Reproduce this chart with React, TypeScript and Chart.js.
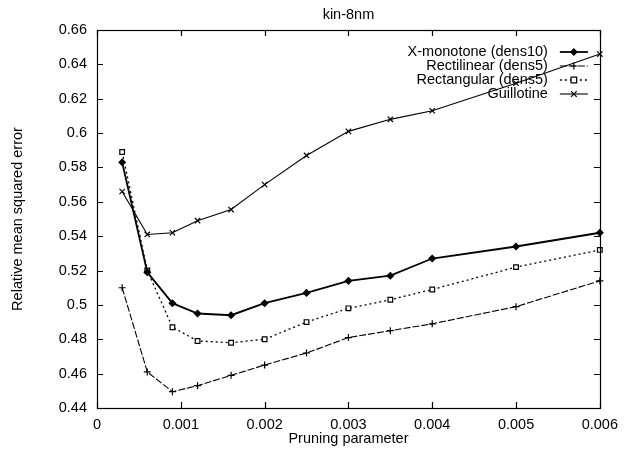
import React, { useEffect, useRef } from 'react';
import { Chart, registerables } from 'chart.js';

Chart.register(...registerables);

const chartTitle = 'kin-8nm';
const xAxisTitle = 'Pruning parameter';
const yAxisTitle = 'Relative mean squared error';

const pruning = [0.0003, 0.0006, 0.0009, 0.0012, 0.0016, 0.002, 0.0025, 0.003, 0.0035, 0.004, 0.005, 0.006];
const seriesNames = ['X-monotone (dens10)', 'Rectilinear (dens5)', 'Rectangular (dens5)', 'Guillotine'];
const xMonotone = [0.583, 0.519, 0.501, 0.495, 0.494, 0.501, 0.507, 0.514, 0.517, 0.527, 0.534, 0.542];
const rectilinear = [0.510, 0.461, 0.4495, 0.453, 0.459, 0.465, 0.472, 0.481, 0.485, 0.489, 0.499, 0.514];
const rectangular = [0.589, 0.520, 0.487, 0.479, 0.478, 0.480, 0.490, 0.498, 0.503, 0.509, 0.522, 0.532];
const guillotine = [0.566, 0.541, 0.542, 0.549, 0.5555, 0.570, 0.587, 0.601, 0.608, 0.613, 0.629, 0.646];

const xTicks = [0, 0.001, 0.002, 0.003, 0.004, 0.005, 0.006];
const xTickLabels = ['0', '0.001', '0.002', '0.003', '0.004', '0.005', '0.006'];
const yTicks = [0.44, 0.46, 0.48, 0.5, 0.52, 0.54, 0.56, 0.58, 0.6, 0.62, 0.64, 0.66];
const yTickLabels = ['0.44', '0.46', '0.48', '0.5', '0.52', '0.54', '0.56', '0.58', '0.6', '0.62', '0.64', '0.66'];

const FONT = '"Liberation Sans", Arial, sans-serif';
const FS = 14.5;

type Sty = { pointStyle: string; radius: number; dash: number[]; width: number; fill: string };
const styles: Sty[] = [
  { pointStyle: 'rectRot', radius: 3.2, dash: [], width: 1.8, fill: '#000' },
  { pointStyle: 'cross', radius: 3.5, dash: [7, 2], width: 1.1, fill: '#000' },
  { pointStyle: 'rect', radius: 3.3, dash: [2, 3], width: 1.3, fill: '#fff' },
  { pointStyle: 'crossRot', radius: 3.8, dash: [], width: 1.1, fill: '#000' },
];
const seriesValues = [xMonotone, rectilinear, rectangular, guillotine];

function drawMarker(ctx: CanvasRenderingContext2D, s: Sty, x: number, y: number) {
  const r = s.radius;
  ctx.save();
  ctx.setLineDash([]);
  ctx.lineWidth = 1.2;
  ctx.strokeStyle = '#000';
  ctx.fillStyle = s.fill;
  ctx.beginPath();
  if (s.pointStyle === 'rectRot') {
    ctx.moveTo(x, y - r); ctx.lineTo(x + r, y); ctx.lineTo(x, y + r); ctx.lineTo(x - r, y); ctx.closePath();
    ctx.fill(); ctx.stroke();
  } else if (s.pointStyle === 'cross') {
    ctx.moveTo(x - r, y); ctx.lineTo(x + r, y); ctx.moveTo(x, y - r); ctx.lineTo(x, y + r); ctx.stroke();
  } else if (s.pointStyle === 'rect') {
    const h = r * 0.85;
    ctx.rect(x - h, y - h, 2 * h, 2 * h); ctx.fill(); ctx.stroke();
  } else {
    const d = r * 0.75;
    ctx.moveTo(x - d, y - d); ctx.lineTo(x + d, y + d); ctx.moveTo(x + d, y - d); ctx.lineTo(x - d, y + d); ctx.stroke();
  }
  ctx.restore();
}

const framePlugin = {
  id: 'gnuFrame',
  afterDraw(chart: any) {
    const { ctx, chartArea } = chart;
    const { left, right, top, bottom } = chartArea;
    const xs = chart.scales.x;
    const ys = chart.scales.y;
    ctx.save();
    ctx.strokeStyle = '#000';
    ctx.lineWidth = 1.2;
    ctx.setLineDash([]);
    ctx.strokeRect(Math.round(left) + 0.5, Math.round(top) + 0.5, Math.round(right - left), Math.round(bottom - top));
    const tl = 6;
    ctx.beginPath();
    xTicks.forEach((v) => {
      const px = Math.round(xs.getPixelForValue(v)) + 0.5;
      ctx.moveTo(px, bottom); ctx.lineTo(px, bottom - tl);
      ctx.moveTo(px, top); ctx.lineTo(px, top + tl);
    });
    yTicks.forEach((v) => {
      const py = Math.round(ys.getPixelForValue(v)) + 0.5;
      ctx.moveTo(left, py); ctx.lineTo(left + tl, py);
      ctx.moveTo(right, py); ctx.lineTo(right - tl, py);
    });
    ctx.stroke();

    // title
    ctx.fillStyle = '#000';
    ctx.font = `${FS}px ${FONT}`;
    ctx.textAlign = 'center';
    ctx.textBaseline = 'middle';
    ctx.fillText(chartTitle, (left + right) / 2, 15);

    // legend (gnuplot key)
    const textRight = right - 52;
    const sx0 = right - 40;
    const sx1 = right - 12;
    const mx = right - 26;
    seriesNames.forEach((name, i) => {
      const y = top + 22 + i * 14;
      ctx.fillStyle = '#000';
      ctx.textAlign = 'right';
      ctx.textBaseline = 'middle';
      ctx.fillText(name, textRight, y);
      const s = styles[i];
      ctx.save();
      ctx.lineWidth = s.width;
      ctx.setLineDash(s.dash);
      ctx.beginPath();
      ctx.moveTo(sx0, y); ctx.lineTo(sx1, y);
      ctx.stroke();
      ctx.restore();
      drawMarker(ctx, s, mx, y);
    });
    ctx.restore();
  },
};

export default function App() {
  const ref = useRef<HTMLCanvasElement | null>(null);
  useEffect(() => {
    document.body.style.margin = '0';
    if (!ref.current) return;
    Chart.defaults.font.family = FONT;
    Chart.defaults.font.size = FS;
    Chart.defaults.color = '#000';
    const datasets = seriesNames.map((name, i) => {
      const s = styles[i];
      return {
        label: name,
        data: pruning.map((x, j) => ({ x, y: seriesValues[i][j] })),
        borderColor: '#000',
        backgroundColor: s.fill,
        borderWidth: s.width,
        borderDash: s.dash,
        pointStyle: s.pointStyle as any,
        pointRadius: s.radius,
        pointBorderWidth: 1.2,
        pointBorderColor: '#000',
        pointBackgroundColor: s.fill,
        tension: 0,
        fill: false,
        clip: false as any,
      };
    });
    const chart = new Chart(ref.current, {
      type: 'line',
      data: { datasets },
      options: {
        animation: false,
        responsive: false,
        devicePixelRatio: 1,
        layout: { padding: { top: 30, right: 26, left: 0, bottom: 0 } },
        plugins: { legend: { display: false }, title: { display: false }, tooltip: { enabled: false } },
        scales: {
          x: {
            type: 'linear',
            min: 0,
            max: 0.006,
            afterFit: (s: any) => { s.height = 42; },
            afterBuildTicks: (s: any) => { s.ticks = xTicks.map((value) => ({ value })); },
            grid: { display: true, drawOnChartArea: false, drawTicks: false },
            border: { display: false },
            ticks: {
              autoSkip: false,
              maxRotation: 0,
              padding: 8,
              color: '#000',
              font: { size: FS },
              callback: (_v: any, i: number) => xTickLabels[i],
            },
            title: { display: true, text: xAxisTitle, color: '#000', font: { size: FS }, padding: { top: 0, bottom: 2 } },
          },
          y: {
            type: 'linear',
            min: 0.44,
            max: 0.66,
            afterFit: (s: any) => { s.width = 97; },
            afterBuildTicks: (s: any) => { s.ticks = yTicks.map((value) => ({ value })); },
            grid: { display: true, drawOnChartArea: false, drawTicks: false },
            border: { display: false },
            ticks: {
              autoSkip: false,
              padding: 10,
              color: '#000',
              font: { size: FS },
              callback: (_v: any, i: number) => yTickLabels[i],
            },
            title: { display: true, text: yAxisTitle, color: '#000', font: { size: FS }, padding: { top: 9, bottom: 0 } },
          },
        },
      },
      plugins: [framePlugin],
    });
    return () => chart.destroy();
  }, []);
  return (
    <div style={{ width: 626, height: 450, background: '#fff' }}>
      <canvas ref={ref} width={626} height={450} style={{ display: 'block' }} />
    </div>
  );
}
